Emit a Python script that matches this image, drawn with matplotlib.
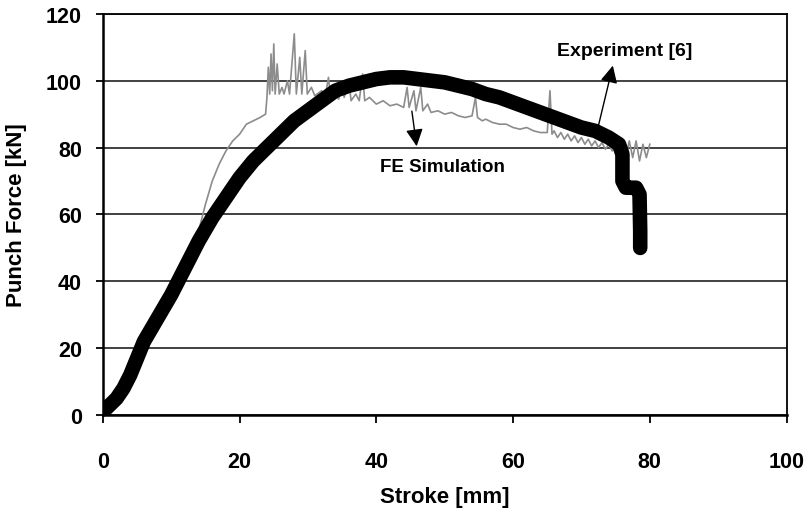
import matplotlib.pyplot as plt

plt.rcParams['font.family'] = ['Liberation Sans', 'DejaVu Sans']
plt.rcParams['font.weight'] = 'bold'

# FE simulation curve (thick black)
sim_x = [0, 1, 2, 3, 4, 5, 6, 8, 10, 12, 14, 16, 18, 20, 22, 24, 26, 28, 30,
         32, 34, 36, 38, 40, 42, 44, 46, 48, 50, 52, 54, 56, 58, 60, 62, 64,
         66, 68, 70, 72, 74, 75.5, 76, 76, 76.5, 78, 78.5, 78.6, 78.6]
sim_y = [1, 3, 5, 8, 12, 17, 22, 29, 36, 44, 52, 59, 65, 71, 76, 80, 84, 88,
         91, 94, 97, 98.5, 99.5, 100.5, 101, 101, 100.5, 100, 99.5, 98.5, 97.5,
         96, 95, 93.5, 92, 90.5, 89, 87.5, 86, 85, 83, 81, 78, 70, 68, 68, 66,
         55, 50]

# experimental curve (thin grey), spikes included
exp_x = [0, 2, 4, 6, 8, 10, 12, 13, 14, 15, 16, 17, 18, 19, 20, 21, 22, 23,
         23.8, 24, 24.2, 24.4, 24.6, 24.8, 25, 25.2, 25.5, 25.8, 26.2, 26.5,
         27, 27.3, 28, 28.3, 28.8, 29.1, 29.6, 29.9, 30.5, 31, 32, 32.5, 33,
         33.3, 34, 34.5, 35, 35.3, 36, 36.3, 37, 37.5, 38, 38.3, 39, 40, 41,
         42, 43, 44, 44.5, 44.8, 45.5, 45.8, 46.5, 46.8, 47.5, 48, 49, 50, 51,
         52, 53, 54, 54.5, 54.8, 55.5, 56, 57, 58, 59, 60, 61, 62, 63, 64, 65,
         65.4, 65.7, 66, 66.5, 67, 67.5, 68, 68.5, 69, 69.5, 70, 70.5, 71,
         71.5, 72, 72.5, 73, 73.5, 74, 74.5, 75, 75.5, 76, 76.5, 77, 77.5, 78,
         78.5, 79, 79.5, 80]
exp_y = [0.5, 4, 11, 20, 29, 37, 45, 49, 55, 63, 70, 75, 79, 82, 84, 87, 88,
         89, 90, 95, 104, 96, 108, 97, 111, 96, 105, 96, 98, 96, 100, 96, 114,
         96, 107, 96, 109, 96, 98, 95.5, 97, 95, 101, 95, 96, 94.5, 99, 95, 100,
         94, 96, 94, 102, 94, 95, 93, 94, 92.5, 93, 92, 98, 92, 97, 91, 98, 91,
         93, 90.5, 91, 90, 90.5, 89.5, 89, 89.5, 95, 89, 88, 88.5, 87.5, 87, 87,
         86, 85.5, 86, 85, 84.5, 84.5, 97, 84, 85, 83, 84.5, 82.5, 84, 82, 83.5,
         81.5, 83, 81, 82.5, 80.5, 82, 80, 81.5, 79.5, 81, 79, 80.5, 78.5, 81,
         77, 82, 77, 82, 76, 81, 77, 81]

y_ticks = [0, 20, 40, 60, 80, 100, 120]
x_ticks = [0, 20, 40, 60, 80, 100]

fig = plt.figure(figsize=(8.1, 5.1), dpi=100)
ax = fig.add_axes([0.127, 0.184, 0.844, 0.787])

ax.plot(exp_x, exp_y, color='#8c8c8c', lw=1.2, zorder=2)
ax.plot(sim_x, sim_y, color='black', lw=10.5, solid_capstyle='round',
        solid_joinstyle='round', zorder=3)

ax.set_xlim(0, 100)
ax.set_ylim(0, 120)
ax.set_xticks(x_ticks)
ax.set_yticks(y_ticks)
ax.grid(axis='y', color='#333333', lw=1.3)
ax.set_axisbelow(True)

for s in ax.spines.values():
    s.set_linewidth(1.3)
ax.spines['left'].set_linewidth(1.8)
ax.spines['bottom'].set_linewidth(1.8)

ax.tick_params(axis='x', direction='out', length=6, width=1.3, pad=20,
               labelsize=15.5)
ax.tick_params(axis='y', direction='out', length=5, width=1.3, pad=10,
               labelsize=15.5)

ax.set_xlabel('Stroke [mm]', fontsize=16, fontweight='bold', labelpad=10)
ax.set_ylabel('Punch Force [kN]', fontsize=16, fontweight='bold', labelpad=14)

ax.annotate('Experiment [6]', xy=(74.6, 104.5), xytext=(76.4, 109),
            ha='center', va='center', fontsize=14, fontweight='bold')
ax.annotate('', xy=(74.6, 104.5), xytext=(72.4, 85.8),
            arrowprops=dict(arrowstyle='-|>', color='black', lw=1,
                            mutation_scale=26, shrinkA=0, shrinkB=0))
ax.annotate('FE Simulation', xy=(49.7, 74.4), ha='center', va='center',
            fontsize=13.5, fontweight='bold')
ax.annotate('', xy=(45.9, 80.4), xytext=(45.2, 90.9),
            arrowprops=dict(arrowstyle='-|>', color='black', lw=1,
                            mutation_scale=26, shrinkA=0, shrinkB=0))

fig.savefig('out.png', dpi=100)
